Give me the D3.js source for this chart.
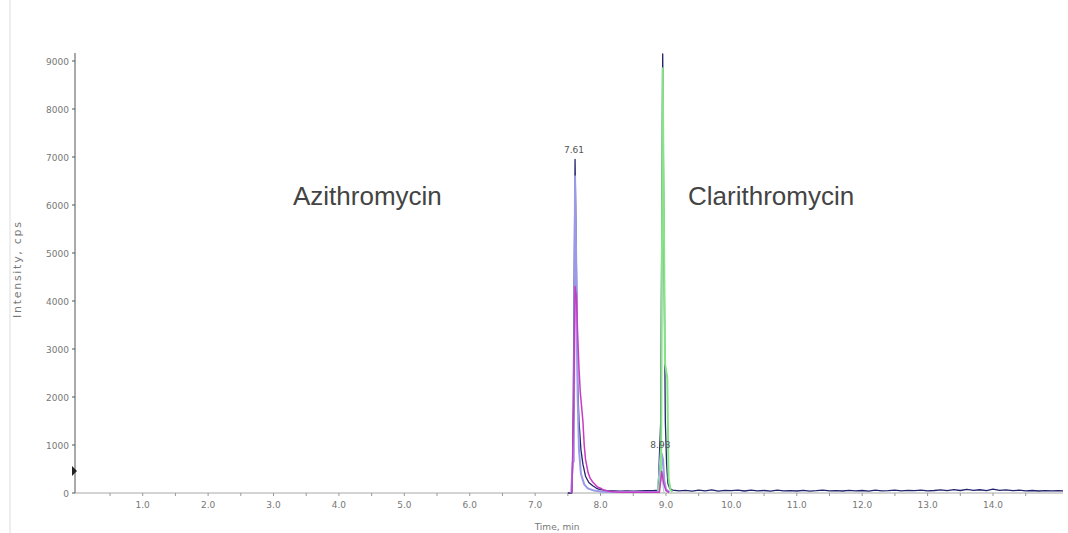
<!DOCTYPE html>
<html><head><meta charset="utf-8">
<script src="https://cdn.jsdelivr.net/npm/d3@7"></script>
<style>body{margin:0;background:#fff;} svg{display:block;}</style>
</head><body>
<svg id="c" width="1068" height="533"></svg>
<script>
const xTicks = [1,2,3,4,5,6,7,8,9,10,11,12,13,14];
const xMinor = [0.5,1,1.5,2,2.5,3,3.5,4,4.5,5,5.5,6,6.5,7,7.5,8,8.5,9,9.5,10,10.5,11,11.5,12,12.5,13,13.5,14,14.5];
const yTicks = [0,1000,2000,3000,4000,5000,6000,7000,8000,9000];
const compounds = ["Azithromycin","Clarithromycin"];
const peakLabels = [{t:7.61, v:6950, text:"7.61"},{t:8.93, v:820, text:"8.93"}];

// navy trace (time, intensity)
const navy = [[7.50,0],[7.56,0],[7.575,650],[7.59,3200],[7.61,6950],[7.63,4800],[7.65,2300],[7.67,1500],[7.70,900],[7.73,600],[7.77,350],[7.82,220],[7.88,150],[7.95,90],[8.00,70],[8.10,50],[8.20,45],[8.30,40],[8.40,45],[8.50,38],[8.60,45],[8.70,48],[8.80,50],[8.88,60],[8.92,1500],[8.95,9150],[8.97,5000],[8.99,1500],[9.01,600],[9.03,200],[9.06,90],[9.10,60],
[9.2,45],[9.3,55],[9.4,40],[9.5,60],[9.6,45],[9.7,65],[9.8,40],[9.9,55],[10.0,48],[10.1,62],[10.2,42],[10.3,58],[10.4,45],[10.5,52],[10.6,40],[10.7,60],[10.8,44],[10.9,50],[11.0,42],[11.1,55],[11.2,40],[11.3,48],[11.4,60],[11.5,45],[11.6,50],[11.7,42],[11.8,55],[11.9,45],[12.0,52],[12.1,40],[12.2,58],[12.3,45],[12.4,50],[12.5,62],[12.6,44],[12.7,55],[12.8,48],[12.9,60],[13.0,45],[13.1,52],[13.2,64],[13.3,48],[13.4,70],[13.5,52],[13.6,75],[13.7,55],[13.8,68],[13.9,50],[14.0,80],[14.1,55],[14.2,66],[14.3,48],[14.4,58],[14.5,45],[14.6,52],[14.7,42],[14.8,50],[14.9,45],[15.0,48],[15.07,45]];

const lavender = [[7.55,0],[7.575,650],[7.59,650],[7.60,3500],[7.61,6600],[7.63,4600],[7.65,2000],[7.67,900],[7.70,400],[7.75,180],[7.80,100],[7.90,50],[8.00,30],[8.10,20],[8.88,20],[8.92,300],[8.935,820],[8.955,700],[8.975,250],[9.00,80],[9.05,20]];

const magenta = [[7.56,0],[7.59,1800],[7.61,4300],[7.63,4100],[7.65,3300],[7.67,2600],[7.69,2100],[7.71,1800],[7.73,1500],[7.75,1000],[7.77,700],[7.81,420],[7.84,310],[7.88,230],[7.92,170],[7.96,120],[8.00,100],[8.05,60],[8.15,30],[8.30,15],[8.90,15],[8.935,450],[8.965,200],[9.00,50],[9.05,10]];

const green = [[8.88,0],[8.925,400],[8.95,8850],[8.985,2700],[9.02,2400],[9.04,300],[9.07,60],[9.10,20]];

const teal = [[8.87,0],[8.915,900],[8.94,300],[8.97,0]];

const svg = d3.select("#c");
svg.append("rect").attr("width",1068).attr("height",533).attr("fill","#fff");
svg.append("line").attr("x1",10).attr("x2",10).attr("y1",0).attr("y2",533).attr("stroke","#ddd");

const x = d3.scaleLinear().domain([0,15.07]).range([77.3,1063]);
const y = d3.scaleLinear().domain([0,9000]).range([493,61]);

// x axis
const gx = svg.append("g").attr("transform","translate(0,493)");
gx.append("line").attr("x1",75).attr("x2",1063).attr("stroke","#a8a8a8");
gx.selectAll("line.tk").data(xMinor).enter().append("line").attr("class","tk")
  .attr("x1",d=>x(d)).attr("x2",d=>x(d)).attr("y1",0).attr("y2",3).attr("stroke","#999");
gx.selectAll("text").data(xTicks).enter().append("text")
  .attr("x",d=>x(d)).attr("y",15).attr("text-anchor","middle")
  .attr("font-family","DejaVu Sans").attr("font-size",9).attr("fill","#777")
  .text(d=>d3.format(".1f")(d));

// y axis
const gy = svg.append("g").attr("transform","translate(75,0)");
gy.append("line").attr("y1",53).attr("y2",493).attr("stroke","#555");
gy.selectAll("line.tk").data(yTicks).enter().append("line").attr("class","tk")
  .attr("x1",-3).attr("x2",0).attr("y1",d=>y(d)).attr("y2",d=>y(d)).attr("stroke","#555");
gy.selectAll("text").data(yTicks).enter().append("text")
  .attr("x",-6).attr("y",d=>y(d)+3.5).attr("text-anchor","end")
  .attr("font-family","DejaVu Sans").attr("font-size",9).attr("fill","#777")
  .text(d=>d);
// marker triangle
gy.append("path").attr("d","M-3,466 L2,471 L-3,476 Z").attr("fill","#222");

// axis titles
svg.append("text").attr("transform","translate(21,270) rotate(-90)").attr("text-anchor","middle")
  .attr("font-family","DejaVu Sans").attr("font-size",11).attr("fill","#777")
  .attr("textLength",96).attr("lengthAdjust","spacing").text("Intensity, cps");
svg.append("text").attr("x",557).attr("y",530).attr("text-anchor","middle")
  .attr("font-family","DejaVu Sans").attr("font-size",9).attr("fill","#777").text("Time, min");

// traces
const line = d3.line().x(d=>x(d[0])).y(d=>y(d[1]));
const traces = [
  {data:navy, color:"#23236e", w:1.3},
  {data:teal, color:"#9ed2d2", w:1},
  {data:lavender, color:"#9a9ae8", w:2},
  {data:green, color:"#86e386", w:2},
  {data:magenta, color:"#c83cc4", w:1.5}
];
traces.forEach(tr=>{
  svg.append("path").attr("d",line(tr.data)).attr("fill","none")
    .attr("stroke",tr.color).attr("stroke-width",tr.w).attr("stroke-linejoin","round");
});

// peak labels
svg.selectAll("text.pk").data(peakLabels).enter().append("text").attr("class","pk")
  .attr("x",d=>x(d.t)-1).attr("y",d=>y(d.v)-6).attr("text-anchor","middle")
  .attr("font-family","DejaVu Sans").attr("font-size",9).attr("fill","#555").text(d=>d.text);

// compound names
svg.append("text").attr("x",293).attr("y",205).attr("font-family","Liberation Sans").attr("font-size",26)
  .attr("fill","#444").text(compounds[0]);
svg.append("text").attr("x",688).attr("y",205).attr("font-family","Liberation Sans").attr("font-size",26)
  .attr("fill","#444").text(compounds[1]);
</script>
</body></html>
